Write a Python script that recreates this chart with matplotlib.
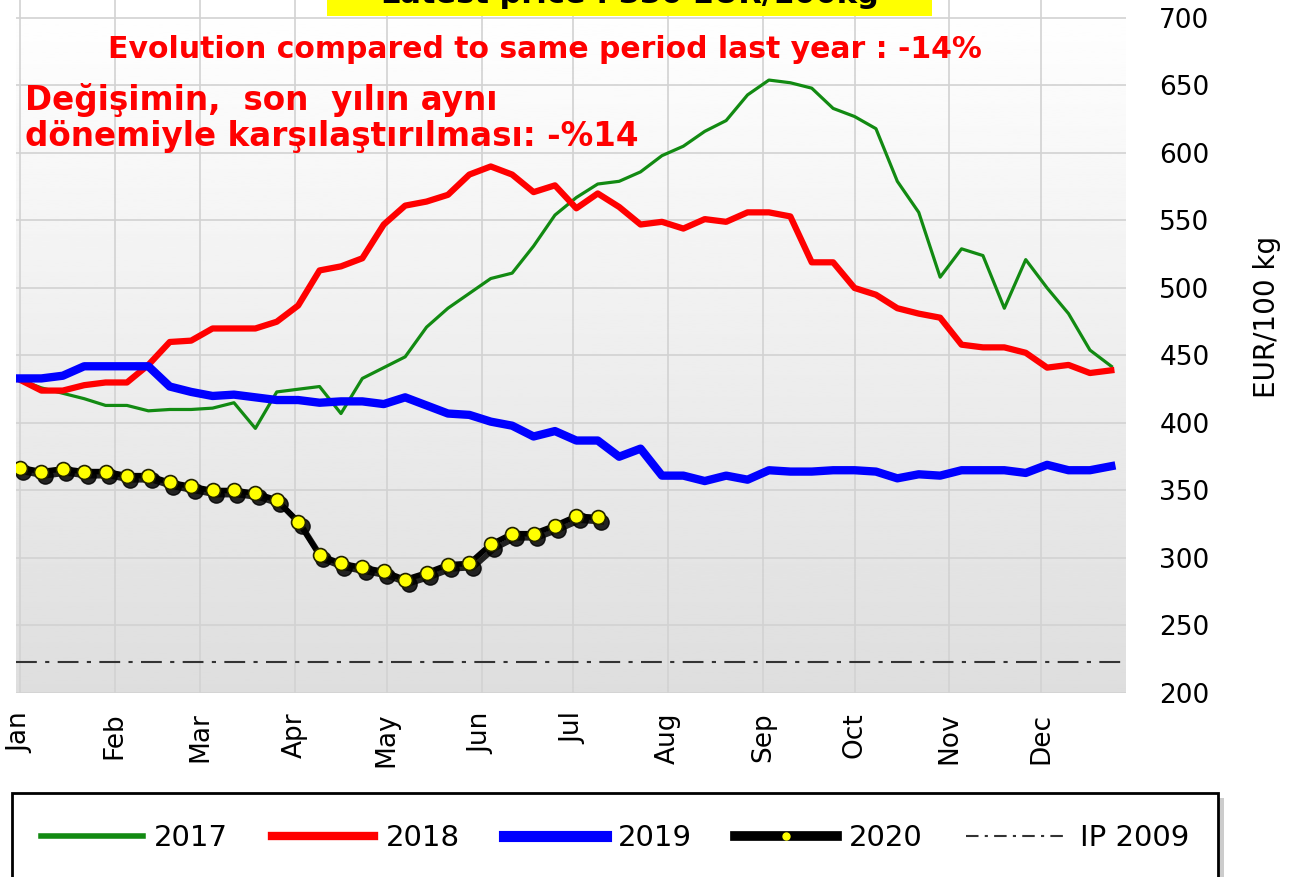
import numpy as np
import matplotlib.pyplot as plt
import matplotlib.transforms as mtransforms
from matplotlib.lines import Line2D
from matplotlib.patches import Rectangle

# weekly prices, EUR/100 kg
weeks = list(range(1, 53))
p2017 = [432, 426, 422, 418, 413, 413, 409, 410, 410, 411, 415, 396, 423, 425, 427, 407,
         433, 441, 449, 471, 485, 496, 507, 511, 531, 554, 567, 577, 579, 586, 598, 605,
         616, 624, 643, 654, 652, 648, 633, 627, 618, 579, 556, 508, 529, 524, 485, 521,
         500, 481, 454, 442]
p2018 = [432, 424, 424, 428, 430, 430, 443, 460, 461, 470, 470, 470, 475, 487, 513, 516,
         522, 547, 561, 564, 569, 584, 590, 584, 571, 576, 559, 570, 560, 547, 549, 544,
         551, 549, 556, 556, 553, 519, 519, 500, 495, 485, 481, 478, 458, 456, 456, 452,
         441, 443, 437, 439]
p2019 = [433, 433, 435, 442, 442, 442, 442, 427, 423, 420, 421, 419, 417, 417, 415, 416,
         416, 414, 419, 413, 407, 406, 401, 398, 390, 394, 387, 387, 375, 381, 361, 361,
         357, 361, 358, 365, 364, 364, 365, 365, 364, 359, 362, 361, 365, 365, 365, 363,
         369, 365, 365, 368]
p2020 = [367, 364, 366, 364, 364, 361, 361, 356, 353, 350, 350, 348, 343, 327, 302, 296,
         293, 290, 284, 289, 295, 296, 310, 318, 318, 324, 331, 330]
ip2009 = 223

months = ['Jan', 'Feb', 'Mar', 'Apr', 'May', 'Jun', 'Jul', 'Aug', 'Sep', 'Oct', 'Nov', 'Dec']
month_start_day = [0, 31, 59, 90, 120, 151, 181, 212, 243, 273, 304, 334]

days = [(w - 1) * 7 for w in weeks]

fig = plt.figure(figsize=(12.91, 8.77), dpi=100)
ax = fig.add_axes([16 / 1291, 1 - 693 / 877, 1110 / 1291, 693 / 877])
xlim = (-1.3, 361.8)
ylim = (200, 713.3)
ax.set_xlim(*xlim)
ax.set_ylim(*ylim)

# gradient background
grad = np.linspace(0.84, 1.0, 256).reshape(-1, 1) ** 0.8
ax.imshow(grad, extent=[xlim[0], xlim[1], ylim[0], ylim[1]], origin='lower',
          aspect='auto', cmap='gray', vmin=0, vmax=1, zorder=0)

for s in ax.spines.values():
    s.set_visible(False)

ax.set_yticks(range(200, 701, 50))
ax.set_xticks(month_start_day)
ax.set_xticklabels(months, rotation=90, va='top', ha='center')
ax.yaxis.tick_right()
ax.tick_params(axis='y', length=0, pad=24, labelsize=19)
ax.tick_params(axis='x', length=0, pad=14, labelsize=19)
ax.grid(True, color='#d2d2d2', lw=1.2)
ax.set_axisbelow(True)
ax.set_ylabel('EUR/100 kg', fontsize=20)
ax.yaxis.set_label_position('right')
ax.yaxis.set_label_coords(1.114, 0.543)

ax.axhline(ip2009, color='#333333', lw=1.5, ls=(0, (10, 4, 2, 4)), zorder=2)
ax.plot(days, p2017, color='#128a12', lw=2.3, zorder=3)
ax.plot(days, p2018, color='#ff0000', lw=4.5, zorder=4)
ax.plot(days, p2019, color='#0000ff', lw=6, zorder=5)

d2020 = days[:len(p2020)]
shadow = ax.transData + mtransforms.ScaledTranslation(2.5 / 72, -3 / 72, fig.dpi_scale_trans)
ax.plot(d2020, p2020, color='black', lw=4, marker='o', ms=11, alpha=0.85,
        transform=shadow, zorder=6)
ax.plot(d2020, p2020, color='black', lw=4, zorder=7)
ax.plot(d2020, p2020, ls='none', marker='o', ms=10, mfc='#ffff00', mec='#222200',
        mew=1.2, zorder=8)

# texts
fig.text(545 / 1291, 1 - 49 / 877, 'Evolution compared to same period last year : -14%',
         color='#ff0000', fontsize=21.5, fontweight='bold', ha='center', va='center')
fig.text(25 / 1291, 1 - 118 / 877, 'Değişimin,  son  yılın aynı\ndönemiyle karşılaştırılması: -%14',
         color='#ff0000', fontsize=23.5, fontweight='bold', ha='left', va='center',
         linespacing=1.12)

# yellow banner at top (cut off)
fig.patches.append(Rectangle((327 / 1291, 1 - 16 / 877), 605 / 1291, 16 / 877,
                             transform=fig.transFigure, facecolor='#ffff00',
                             edgecolor='none', zorder=10))
fig.text(630 / 1291, 1 - 3 / 877, 'Latest price : 330 EUR/100kg', ha='center', va='baseline',
         fontsize=22, fontweight='bold', color='black', zorder=11)

# legend box
fig.patches.append(Rectangle((18 / 1291, -0.01), 1206 / 1291, (877 - 798) / 877 + 0.01,
                             transform=fig.transFigure, facecolor='#aaaaaa',
                             edgecolor='none', alpha=0.6, zorder=1))
fig.patches.append(Rectangle((12 / 1291, -0.01), 1206 / 1291, (877 - 793) / 877 + 0.01,
                             transform=fig.transFigure, facecolor='white',
                             edgecolor='black', lw=2, zorder=2))
handles = [
    Line2D([], [], color='#128a12', lw=4),
    Line2D([], [], color='#ff0000', lw=6),
    Line2D([], [], color='#0000ff', lw=8),
    Line2D([], [], color='black', lw=7, marker='o', ms=5, mfc='#ffff00', mec='#ffff00',
           markevery=[1]),
    Line2D([], [], color='#333333', lw=1.5, ls=(0, (6, 3, 1.5, 3))),
]
leg = fig.legend(handles, ['2017', '2018', '2019', '2020', 'IP 2009'], loc='center',
                 bbox_to_anchor=(615 / 1291, 1 - 838 / 877), ncol=5, frameon=False,
                 handlelength=3.5, handletextpad=0.4, columnspacing=1.5,
                 prop={'size': 21})
leg.set_zorder(12)

fig.savefig('out.png', dpi=100)
